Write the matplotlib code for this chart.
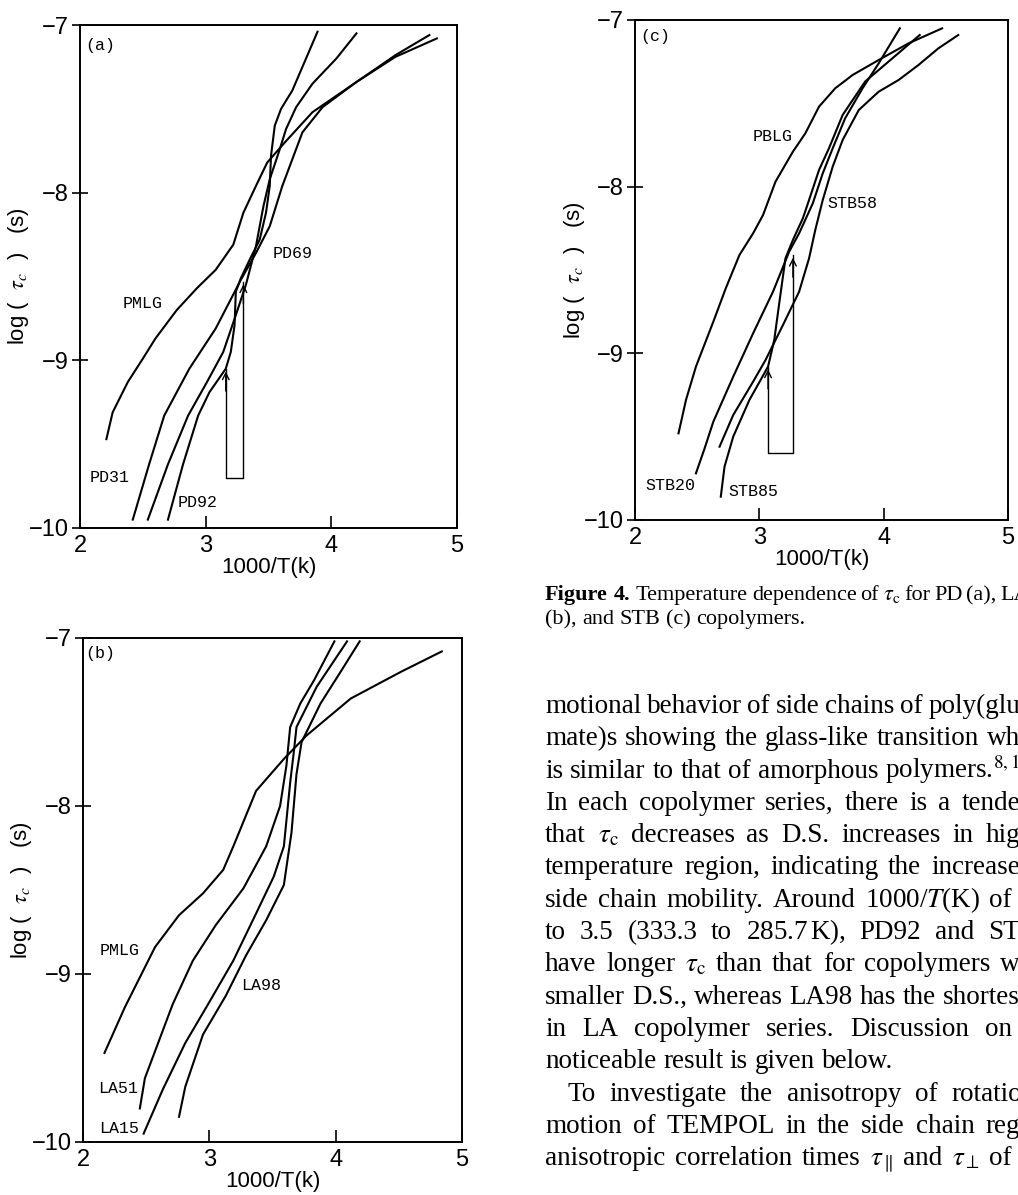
import matplotlib
matplotlib.use("Agg")
import matplotlib.pyplot as plt

W, H = 1018, 1195

# ---- panel (a): PD copolymers ----
a_pmlg_x = [2.21, 2.26, 2.38, 2.50, 2.60, 2.77, 2.93, 3.08, 3.22, 3.30, 3.40, 3.49, 3.63, 3.85, 4.20, 4.51, 4.84]
a_pmlg_y = [-9.47, -9.31, -9.13, -8.99, -8.87, -8.70, -8.57, -8.46, -8.31, -8.12, -7.96, -7.82, -7.70, -7.52, -7.34, -7.19, -7.08]
a_pd31_x = [2.42, 2.55, 2.67, 2.87, 3.08, 3.28, 3.40, 3.51, 3.61, 3.77, 3.93, 4.20, 4.51, 4.78]
a_pd31_y = [-9.95, -9.62, -9.33, -9.05, -8.81, -8.52, -8.36, -8.20, -7.96, -7.64, -7.49, -7.34, -7.18, -7.06]
a_pd69_x = [2.54, 2.70, 2.86, 3.01, 3.14, 3.24, 3.32, 3.40, 3.46, 3.51, 3.59, 3.64, 3.72, 3.85, 4.04, 4.20]
a_pd69_y = [-9.95, -9.62, -9.33, -9.13, -8.95, -8.73, -8.55, -8.32, -8.08, -7.92, -7.74, -7.62, -7.49, -7.35, -7.20, -7.05]
a_pd92_x = [2.70, 2.82, 2.94, 3.03, 3.16, 3.20, 3.23, 3.24, 3.28, 3.35, 3.43, 3.48, 3.51, 3.52, 3.55, 3.60, 3.69, 3.89]
a_pd92_y = [-9.95, -9.62, -9.33, -9.19, -9.05, -8.95, -8.79, -8.59, -8.51, -8.40, -8.28, -8.12, -7.96, -7.78, -7.60, -7.50, -7.39, -7.04]
a_rect_x = [3.16, 3.16, 3.30, 3.30]
a_rect_y = [-9.05, -9.70, -9.70, -8.53]

# ---- panel (b): LA copolymers ----
b_pmlg_x = [2.17, 2.33, 2.57, 2.76, 2.95, 3.11, 3.19, 3.37, 3.59, 3.77, 4.12, 4.52, 4.84]
b_pmlg_y = [-9.47, -9.20, -8.84, -8.65, -8.52, -8.38, -8.24, -7.91, -7.72, -7.58, -7.36, -7.20, -7.08]
b_la51_x = [2.45, 2.49, 2.57, 2.71, 2.87, 3.05, 3.27, 3.45, 3.56, 3.61, 3.64, 3.72, 3.83, 3.99]
b_la51_y = [-9.80, -9.62, -9.46, -9.18, -8.92, -8.71, -8.49, -8.24, -8.00, -7.76, -7.53, -7.39, -7.25, -7.02]
b_la15_x = [2.48, 2.63, 2.81, 2.99, 3.19, 3.37, 3.51, 3.59, 3.64, 3.67, 3.69, 3.85, 4.09]
b_la15_y = [-9.95, -9.69, -9.41, -9.18, -8.92, -8.64, -8.42, -8.24, -7.86, -7.67, -7.53, -7.29, -7.02]
b_la98_x = [2.76, 2.81, 2.95, 3.13, 3.29, 3.45, 3.59, 3.65, 3.69, 3.73, 3.88, 4.04, 4.19]
b_la98_y = [-9.85, -9.67, -9.36, -9.13, -8.89, -8.68, -8.47, -8.16, -7.81, -7.62, -7.39, -7.20, -7.02]

# ---- panel (c): STB copolymers ----
c_pblg_x = [2.35, 2.41, 2.49, 2.63, 2.73, 2.84, 2.95, 3.03, 3.13, 3.27, 3.37, 3.48, 3.61, 3.75, 3.96, 4.20, 4.47]
c_pblg_y = [-9.48, -9.28, -9.08, -8.81, -8.61, -8.41, -8.28, -8.17, -7.97, -7.79, -7.68, -7.52, -7.41, -7.33, -7.24, -7.14, -7.05]
c_stb20_x = [2.49, 2.56, 2.63, 2.79, 2.95, 3.11, 3.24, 3.32, 3.43, 3.51, 3.59, 3.69, 3.83, 3.96, 4.13]
c_stb20_y = [-9.72, -9.57, -9.41, -9.14, -8.88, -8.63, -8.39, -8.28, -8.10, -7.92, -7.77, -7.59, -7.41, -7.26, -7.05]
c_stb58_x = [2.68, 2.79, 2.95, 3.05, 3.19, 3.32, 3.40, 3.45, 3.51, 3.59, 3.67, 3.80, 3.96, 4.12, 4.28, 4.44, 4.60]
c_stb58_y = [-9.56, -9.37, -9.17, -9.04, -8.83, -8.63, -8.43, -8.26, -8.08, -7.88, -7.72, -7.54, -7.43, -7.36, -7.27, -7.17, -7.09]
c_stb85_x = [2.69, 2.72, 2.79, 2.92, 3.07, 3.12, 3.16, 3.21, 3.27, 3.35, 3.40, 3.48, 3.56, 3.67, 3.85, 4.07, 4.29]
c_stb85_y = [-9.86, -9.68, -9.50, -9.28, -9.08, -8.92, -8.70, -8.43, -8.32, -8.19, -8.08, -7.90, -7.77, -7.57, -7.37, -7.23, -7.09]
c_rect_x = [3.07, 3.07, 3.27, 3.27]
c_rect_y = [-9.08, -9.60, -9.60, -8.41]

# curve labels: (text, x, y)
a_labels = [("(a)", 2.04, -7.12), ("PMLG", 2.34, -8.66), ("PD69", 3.53, -8.36),
            ("PD31", 2.08, -9.70), ("PD92", 2.78, -9.85)]
b_labels = [("(b)", 2.02, -7.09), ("PMLG", 2.13, -8.86), ("LA98", 3.25, -9.07),
            ("LA51", 2.12, -9.68), ("LA15", 2.13, -9.92)]
c_labels = [("(c)", 2.04, -7.10), ("PBLG", 2.95, -7.70), ("STB58", 3.55, -8.10),
            ("STB20", 2.08, -9.79), ("STB85", 2.75, -9.83)]

x_ticks = [2, 3, 4, 5]
y_ticks = [-10, -9, -8, -7]

caption_1 = r"Temperature dependence of $\tau_\mathrm{c}$ for PD (a), LA"
caption_2 = "(b), and STB (c) copolymers."
body = [
    "motional behavior of side chains of poly(glu",
    "mate)s showing the glass-like transition wh",
    "is similar to that of amorphous polymers.$^{8,1}$",
    "In each copolymer series, there is a tende",
    r"that $\tau_\mathrm{c}$ decreases as D.S. increases in hig",
    "temperature region, indicating the increase",
    r"side chain mobility. Around 1000/$T$(K) of",
    r"to 3.5 (333.3 to 285.7$\,$K), PD92 and ST",
    r"have longer $\tau_\mathrm{c}$ than that for copolymers w",
    "smaller D.S., whereas LA98 has the shortes",
    "in LA copolymer series. Discussion on",
    "noticeable result is given below.",
    "To investigate the anisotropy of rotatio",
    "motion of TEMPOL in the side chain reg",
    r"anisotropic correlation times $\tau_\parallel$ and $\tau_\perp$ of",
]

plt.rcParams["mathtext.fontset"] = "stix"
sans = "Liberation Sans"
serif = "Liberation Serif"

fig = plt.figure(figsize=(W / 100, H / 100), dpi=100)


def box(left, top, right, bottom):
    return [left / W, 1 - bottom / H, (right - left) / W, (bottom - top) / H]


def style(ax):
    ax.set_xlim(2, 5)
    ax.set_ylim(-10, -7)
    ax.set_xticks(x_ticks)
    ax.set_yticks(y_ticks)
    ax.tick_params(axis="x", direction="in", length=9, width=1.2, pad=5)
    ax.tick_params(axis="y", direction="inout", length=12, width=1.2, pad=2)
    for lab in ax.get_xticklabels() + ax.get_yticklabels():
        lab.set_family(sans)
        lab.set_fontsize(17)
    for s in ax.spines.values():
        s.set_linewidth(1.4)
    ax.set_xlabel("1000/T(k)", fontsize=16, family=sans, labelpad=0)
    ax.set_ylabel(r"log (  $\tau_c$  )   (s)", fontsize=16, family=sans)
    ax.yaxis.set_label_coords(-0.13, 0.5)


def rect_arrows(ax, xs, ys):
    ax.plot(xs, ys, color="black", lw=1.0)
    for x, y in [(xs[0], ys[0]), (xs[-1], ys[-1])]:
        ax.annotate("", xy=(x, y), xytext=(x, y - 0.15),
                    arrowprops=dict(arrowstyle="->", lw=1.0, color="black", mutation_scale=12))


def labels(ax, items):
    for t, x, y in items:
        ax.text(x, y, t, fontsize=12, family="Liberation Mono", ha="left", va="center")


ax_a = fig.add_axes(box(80, 25, 457, 528))
for xs, ys in [(a_pmlg_x, a_pmlg_y), (a_pd31_x, a_pd31_y), (a_pd69_x, a_pd69_y), (a_pd92_x, a_pd92_y)]:
    ax_a.plot(xs, ys, color="black", lw=1.5)
rect_arrows(ax_a, a_rect_x, a_rect_y)
labels(ax_a, a_labels)
style(ax_a)

ax_b = fig.add_axes(box(83, 638, 462, 1142))
for xs, ys in [(b_pmlg_x, b_pmlg_y), (b_la51_x, b_la51_y), (b_la15_x, b_la15_y), (b_la98_x, b_la98_y)]:
    ax_b.plot(xs, ys, color="black", lw=1.5)
labels(ax_b, b_labels)
style(ax_b)

ax_c = fig.add_axes(box(635, 20, 1008, 520))
for xs, ys in [(c_pblg_x, c_pblg_y), (c_stb20_x, c_stb20_y), (c_stb58_x, c_stb58_y), (c_stb85_x, c_stb85_y)]:
    ax_c.plot(xs, ys, color="black", lw=1.5)
rect_arrows(ax_c, c_rect_x, c_rect_y)
labels(ax_c, c_labels)
style(ax_c)

# ---- caption and running text (right column, cut at the page edge) ----
renderer = fig.canvas.get_renderer()


def put_line(s, base_y, x0, x1=None, size=19.5, weight="normal"):
    words = s.split(" ")
    arts = [fig.text(0, 1 - base_y / H, w, fontsize=size, family=serif,
                     weight=weight, va="baseline") for w in words]
    widths = [a.get_window_extent(renderer).width for a in arts]
    gap = size * 0.25 * 100 / 72
    if x1 is not None and len(words) > 1:
        gap = max((x1 - x0 - sum(widths)) / (len(words) - 1), 0.6 * gap)
    x = x0
    for a, w in zip(arts, widths):
        a.set_x(x / W)
        x += w + gap


col = 545
put_line("Figure 4.", 600, col, size=16, weight="bold")
put_line(caption_1, 600, 636, 1030, size=16)
put_line(caption_2, 624, col, size=16)

for i, s in enumerate(body):
    y = 713 + 32.3 * i
    if i == 11:
        put_line(s, y, col)
    elif i == 12:
        put_line(s, y, col + 22, 1022)
    elif s.endswith(" of") or s.endswith(" on"):
        put_line(s, y, col, 1012)
    else:
        put_line(s, y, col, 1020)

fig.savefig("out.png", dpi=100)
